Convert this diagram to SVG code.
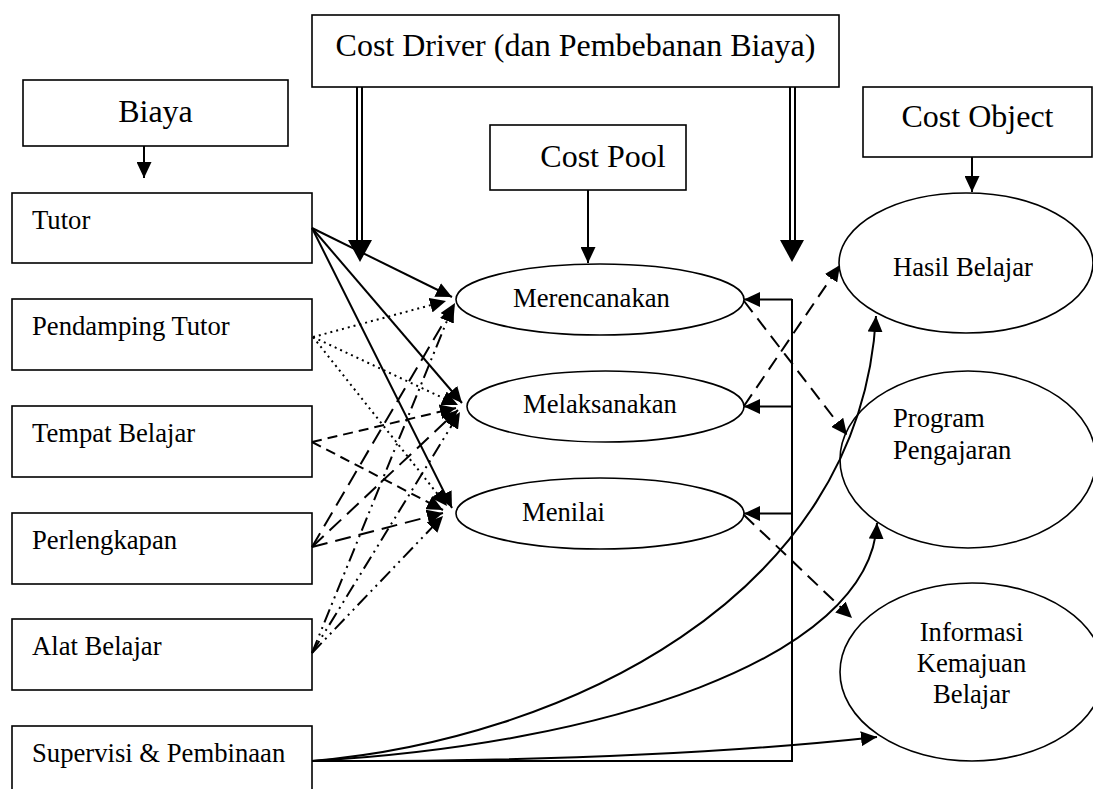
<svg xmlns="http://www.w3.org/2000/svg" width="1093" height="789" viewBox="0 0 1093 789">
<style>
.box{fill:#fff;stroke:#000;stroke-width:1.6}
.ell{fill:#fff;stroke:#000;stroke-width:1.6}
.t{font-family:"Liberation Serif","Times New Roman",serif;font-size:26.67px;fill:#000}
.h{font-size:32px}
.mid{text-anchor:middle}
.c{fill:none;stroke:#000;stroke-width:2}
.dot{stroke-dasharray:2 4}
.sd{stroke-dasharray:10 6}
.ld{stroke-dasharray:16 8}
.dd{stroke-dasharray:14 5 2 5 2 5}
.rd{stroke-dasharray:14 8}
</style>
<defs>
<marker id="ah" markerUnits="userSpaceOnUse" markerWidth="17" markerHeight="15" refX="16" refY="7.5" orient="auto">
<path d="M0,0 L16,7.5 L0,15 z" fill="#000"/>
</marker>
</defs>
<rect width="1093" height="789" fill="#fff"/>

<g id="cost-driver"><rect class="box" x="312" y="15" width="527" height="72"/><text class="t h mid" x="575.5" y="56">Cost Driver (dan Pembebanan Biaya)</text></g>
<g id="biaya"><rect class="box" x="23" y="80" width="265" height="66"/><text class="t h mid" x="155.5" y="122">Biaya</text></g>
<g id="cost-pool"><rect class="box" x="490" y="125" width="196" height="65"/><text class="t h mid" x="603" y="167">Cost Pool</text></g>
<g id="cost-object"><rect class="box" x="863" y="87" width="229" height="70"/><text class="t h mid" x="977.5" y="127">Cost Object</text></g>

<g id="tutor"><rect class="box" x="12" y="193" width="300" height="70"/><text class="t" x="32" y="229">Tutor</text></g>
<g id="pendamping-tutor"><rect class="box" x="12" y="299" width="300" height="71"/><text class="t" x="32" y="335">Pendamping Tutor</text></g>
<g id="tempat-belajar"><rect class="box" x="12" y="406" width="300" height="71"/><text class="t" x="32" y="442">Tempat Belajar</text></g>
<g id="perlengkapan"><rect class="box" x="12" y="513" width="300" height="71"/><text class="t" x="32" y="549">Perlengkapan</text></g>
<g id="alat-belajar"><rect class="box" x="12" y="619" width="300" height="71"/><text class="t" x="32" y="655">Alat Belajar</text></g>
<g id="supervisi"><rect class="box" x="12" y="726" width="300" height="80"/><text class="t" x="32" y="762">Supervisi &amp; Pembinaan</text></g>

<g id="merencanakan"><ellipse class="ell" cx="600" cy="299.5" rx="144" ry="35.5"/><text class="t" x="513" y="307">Merencanakan</text></g>
<g id="melaksanakan"><ellipse class="ell" cx="605.5" cy="406.5" rx="138.5" ry="35.5"/><text class="t" x="523" y="413">Melaksanakan</text></g>
<g id="menilai"><ellipse class="ell" cx="600" cy="513.5" rx="144" ry="35.5"/><text class="t" x="522" y="521">Menilai</text></g>

<g id="hasil-belajar"><ellipse class="ell" cx="966" cy="263" rx="127" ry="70"/><text class="t" x="893" y="276">Hasil Belajar</text></g>
<g id="program-pengajaran"><ellipse class="ell" cx="968" cy="459.5" rx="128" ry="88.5"/><text class="t" x="893" y="427">Program</text><text class="t" x="893" y="459">Pengajaran</text></g>
<g id="informasi"><ellipse class="ell" cx="972" cy="672" rx="132" ry="89"/><text class="t mid" x="971.5" y="641">Informasi</text><text class="t mid" x="971.5" y="672">Kemajuan</text><text class="t mid" x="971.5" y="703">Belajar</text></g>

<g id="connectors">
<line class="c" x1="144" y1="146" x2="144" y2="178" marker-end="url(#ah)"/>
<line class="c" x1="588" y1="190" x2="588" y2="263" marker-end="url(#ah)"/>
<line class="c" x1="972" y1="157" x2="972" y2="192" marker-end="url(#ah)"/>
<line class="c" x1="357" y1="87" x2="357" y2="244"/>
<line class="c" x1="362" y1="87" x2="362" y2="244"/>
<polygon points="348,240 372,240 360,262" fill="#000"/>
<line class="c" x1="790" y1="87" x2="790" y2="244"/>
<line class="c" x1="795" y1="87" x2="795" y2="244"/>
<polygon points="780,240 804,240 792,262" fill="#000"/>

<line class="c" x1="312" y1="228" x2="452" y2="297" marker-end="url(#ah)"/>
<line class="c" x1="312" y1="228" x2="462" y2="403" marker-end="url(#ah)"/>
<line class="c" x1="312" y1="228" x2="452" y2="508" marker-end="url(#ah)"/>
<line class="c dot" x1="313" y1="337" x2="446" y2="301" marker-end="url(#ah)"/>
<line class="c dot" x1="313" y1="337" x2="458" y2="405" marker-end="url(#ah)"/>
<line class="c dot" x1="313" y1="337" x2="447" y2="506" marker-end="url(#ah)"/>
<line class="c sd" x1="312" y1="442" x2="456" y2="408" marker-end="url(#ah)"/>
<line class="c sd" x1="312" y1="442" x2="443" y2="510" marker-end="url(#ah)"/>
<line class="c ld" x1="312" y1="547" x2="455" y2="303" marker-end="url(#ah)"/>
<line class="c ld" x1="312" y1="547" x2="458" y2="410" marker-end="url(#ah)"/>
<line class="c ld" x1="312" y1="547" x2="443" y2="513" marker-end="url(#ah)"/>
<line class="c dd" x1="312" y1="653" x2="453" y2="306" marker-end="url(#ah)"/>
<line class="c dd" x1="312" y1="653" x2="460" y2="412" marker-end="url(#ah)"/>
<line class="c dd" x1="312" y1="653" x2="443" y2="516" marker-end="url(#ah)"/>

<polyline class="c" points="312,761 792,761 792,299"/>
<line class="c" x1="792" y1="299.5" x2="744" y2="299.5" marker-end="url(#ah)"/>
<line class="c" x1="792" y1="406.5" x2="744" y2="406.5" marker-end="url(#ah)"/>
<line class="c" x1="792" y1="513.5" x2="744" y2="513.5" marker-end="url(#ah)"/>
<path class="c" d="M312,761 C560,740 860,600 876,316" marker-end="url(#ah)"/>
<path class="c" d="M312,761 C600,745 870,660 877,523" marker-end="url(#ah)"/>
<path class="c" d="M312,761 Q650,762 877,737" marker-end="url(#ah)"/>

<line class="c rd" x1="744" y1="301" x2="847" y2="435" marker-end="url(#ah)"/>
<line class="c rd" x1="744" y1="406" x2="840" y2="265" marker-end="url(#ah)"/>
<line class="c rd" x1="744" y1="515" x2="852" y2="618" marker-end="url(#ah)"/>
</g>
</svg>
